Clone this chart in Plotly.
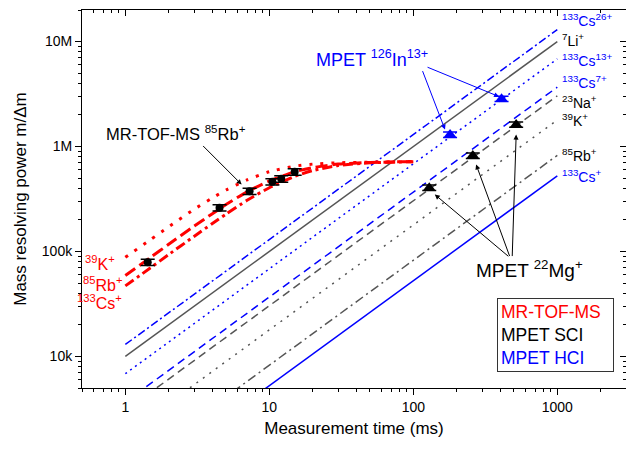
import numpy as np
import plotly.graph_objects as go

# ---------------- data ----------------
# MPET lines (resolving power grows linearly with time), values at 1 ms and 1000 ms
line_labels = ["<sup>133</sup>Cs<sup>26+</sup>", "<sup>7</sup>Li<sup>+</sup>", "<sup>133</sup>Cs<sup>13+</sup>",
               "<sup>133</sup>Cs<sup>7+</sup>", "<sup>23</sup>Na<sup>+</sup>", "<sup>39</sup>K<sup>+</sup>",
               "<sup>85</sup>Rb<sup>+</sup>", "<sup>133</sup>Cs<sup>+</sup>"]
line_t = [1, 1000]
line_r_start = [1.3e4, 1.0e4, 6.84e3, 3.68e3, 3.04e3, 1.79e3, 8.24e2, 5.26e2]
line_r_end = [1.3e7, 1.0e7, 6.84e6, 3.68e6, 3.04e6, 1.79e6, 8.24e5, 5.26e5]

# MR-TOF-MS curves
mr_t = [1, 1.5, 2, 3, 4, 5, 7, 10, 15, 20, 30, 50, 70, 100]
mr_K = [8.8e4, 1.3e5, 1.72e5, 2.52e5, 3.22e5, 3.85e5, 4.8e5, 5.75e5, 6.5e5, 6.8e5, 7.0e5, 7.1e5, 7.15e5, 7.2e5]
mr_Rb = [5.9e4, 8.8e4, 1.17e5, 1.74e5, 2.28e5, 2.8e5, 3.7e5, 4.7e5, 5.75e5, 6.3e5, 6.8e5, 7.05e5, 7.12e5, 7.18e5]
mr_Cs = [4.7e4, 7.0e4, 9.35e4, 1.39e5, 1.84e5, 2.27e5, 3.07e5, 4.05e5, 5.2e5, 5.9e5, 6.6e5, 7.0e5, 7.1e5, 7.18e5]
mr_labels = ["<sup>39</sup>K<sup>+</sup>", "<sup>85</sup>Rb<sup>+</sup>", "<sup>133</sup>Cs<sup>+</sup>"]

# measured points
mr_pt_t = [1.43, 4.51, 7.29, 10.5, 12.1, 15.0]
mr_pt_r = [7.9e4, 2.61e5, 3.75e5, 4.62e5, 4.92e5, 5.74e5]
mg_t = [129, 259, 518]
mg_r = [4.05e5, 8.2e5, 1.62e6]
in_t = [180, 410]
in_r = [1.30e6, 2.85e6]

x_ticks = [1, 10, 100, 1000]
y_ticks = [1e4, 1e5, 1e6, 1e7]
y_ticktext = ["10k", "100k", "1M", "10M"]

# ---------------- styles ----------------
GRAY = "#555555"
BLUE = "#0000ff"
RED = "#ff0000"
line_colors = [BLUE, GRAY, BLUE, BLUE, GRAY, GRAY, GRAY, BLUE]
line_dashes = ["8px,3px,2px,3px", "solid", "2px,4px", "8px,5px", "8px,5px", "2px,6px", "9px,4px,2px,4px", "solid"]
label_colors = [BLUE, "black", BLUE, BLUE, "black", "black", "black", BLUE]
label_yshift = [10, 2, -1, 5, -6, 0, 0, 0]
mr_dashes = ["3px,8px", "12px,5px", "10px,4px,3px,4px"]

FONT = "Liberation Sans, Arial, sans-serif"

fig = go.Figure()

for rs, re_, c, d in zip(line_r_start, line_r_end, line_colors, line_dashes):
    fig.add_trace(go.Scatter(x=line_t, y=[rs, re_], mode="lines",
                             line=dict(color=c, width=1.5, dash=d), hoverinfo="skip"))

for ys, d in zip([mr_K, mr_Rb, mr_Cs], mr_dashes):
    fig.add_trace(go.Scatter(x=mr_t, y=ys, mode="lines",
                             line=dict(color=RED, width=3, dash=d, shape="spline", smoothing=0.6),
                             hoverinfo="skip"))

fig.add_trace(go.Scatter(x=mr_pt_t, y=mr_pt_r, mode="markers",
                         marker=dict(symbol="circle", size=8, color="black"),
                         error_y=dict(type="percent", value=7, color="black", thickness=1.5, width=7)))
fig.add_trace(go.Scatter(x=mg_t, y=mg_r, mode="markers",
                         marker=dict(symbol="triangle-up", size=11, color="black"),
                         error_y=dict(type="percent", value=6, color="black", thickness=1.5, width=7)))
fig.add_trace(go.Scatter(x=in_t, y=in_r, mode="markers",
                         marker=dict(symbol="triangle-up", size=11, color=BLUE),
                         error_y=dict(type="percent", value=6, color=BLUE, thickness=1.5, width=7)))

# dummy trace for the top/right frame axes
fig.add_trace(go.Scatter(x=[10], y=[1e5], xaxis="x2", yaxis="y2", mode="markers",
                         marker=dict(opacity=0), hoverinfo="skip"))

ann = []
# right labels for MPET lines
for lab, re_, c, ys in zip(line_labels, line_r_end, label_colors, label_yshift):
    ann.append(dict(x=np.log10(line_t[-1]), y=np.log10(re_), xref="x", yref="y", text=lab,
                    showarrow=False, xanchor="left", yanchor="middle", xshift=3, yshift=ys,
                    font=dict(size=14, color=c, family=FONT)))
# left red labels
for lab, ys, yy, xx in zip(mr_labels, [mr_K, mr_Rb, mr_Cs], [-6, -8, -16], [-8, -1, -1]):
    ann.append(dict(x=np.log10(mr_t[0]), y=np.log10(ys[0]), xref="x", yref="y", text=lab,
                    showarrow=False, xanchor="right", yanchor="middle", xshift=xx, yshift=yy,
                    font=dict(size=16, color=RED, family=FONT)))

# text labels
ann.append(dict(x=0.172, y=0.675, xref="paper", yref="paper", xanchor="center", yanchor="middle",
                text="MR-TOF-MS <sup>85</sup>Rb<sup>+</sup>",
                showarrow=False, font=dict(size=16.5, color="black", family=FONT)))
ann.append(dict(x=0.533, y=0.872, xref="paper", yref="paper", xanchor="center", yanchor="middle",
                text="MPET <sup>126</sup>In<sup>13+</sup>",
                showarrow=False, font=dict(size=18, color=BLUE, family=FONT)))
ann.append(dict(x=0.822, y=0.316, xref="paper", yref="paper", xanchor="center", yanchor="middle",
                text="MPET <sup>22</sup>Mg<sup>+</sup>",
                showarrow=False, font=dict(size=19, color="black", family=FONT)))

# arrows: head (t, R), tail pixel offset
arrows = [(6.42, 4.35e5, -40, -40, "black"),
          (166, 1.45e6, -23, -60, BLUE),
          (394, 2.99e6, -73, -30, BLUE),
          (141, 3.49e5, 75, 63, "black"),
          (273, 6.74e5, 34, 93, "black"),
          (518, 1.30e6, -4, 123, "black")]
for t, r, ax, ay, c in arrows:
    ann.append(dict(x=np.log10(t), y=np.log10(r), xref="x", yref="y", text="", showarrow=True,
                    ax=ax, ay=ay, axref="pixel", ayref="pixel", arrowhead=2, arrowsize=1,
                    arrowwidth=1, arrowcolor=c, standoff=0))

# legend box
ann.append(dict(x=0.7629, y=0.238, xref="paper", yref="paper", xanchor="left", yanchor="top",
                text="<span style='color:#ff0000'>MR-TOF-MS</span><br>"
                     "<span style='color:#000000'>MPET SCI</span><br>"
                     "<span style='color:#0000ff'>MPET HCI</span>",
                showarrow=False, align="left", bordercolor="#333333", borderwidth=1, borderpad=3,
                bgcolor="white", width=109, font=dict(size=17.5, family=FONT)))

xr = [np.log10(0.5), np.log10(3000)]
yr = [np.log10(5000), np.log10(2e7)]
minor_x = [0.5, 0.6, 0.7, 0.8, 0.9] + [k * d for d in [1, 10, 100] for k in range(2, 10)] + [2000, 3000]
minor_y = [k * d for d in [1e3, 1e4, 1e5, 1e6] for k in range(2, 10) if 5000 <= k * d] + [2e7]

fig.update_layout(
    width=626, height=449,
    margin=dict(l=82, r=0, t=10, b=61),
    plot_bgcolor="white", paper_bgcolor="white",
    showlegend=False,
    font=dict(family=FONT, size=14, color="black"),
    annotations=ann,
    xaxis=dict(type="log", range=xr, tickvals=x_ticks, ticktext=[str(v) for v in x_ticks],
               ticks="outside", ticklen=6, tickwidth=1, tickcolor="black",
               showline=True, linecolor="black", linewidth=1, showgrid=False, zeroline=False,
               minor=dict(tickvals=minor_x, ticks="outside", ticklen=3, tickcolor="black", showgrid=False),
               tickfont=dict(size=14),
               title=dict(text="Measurement time (ms)", font=dict(size=17), standoff=8)),
    yaxis=dict(type="log", range=yr, tickvals=y_ticks, ticktext=y_ticktext,
               ticks="outside", ticklen=6, tickwidth=1, tickcolor="black",
               showline=True, linecolor="black", linewidth=1, showgrid=False, zeroline=False,
               minor=dict(tickvals=minor_y, ticks="outside", ticklen=3, tickcolor="black", showgrid=False),
               tickfont=dict(size=14),
               title=dict(text="Mass resolving power m/Δm", font=dict(size=17), standoff=10)),
    xaxis2=dict(type="log", range=xr, overlaying="x", side="top", anchor="y",
                tickvals=x_ticks, showticklabels=False, ticks="inside", ticklen=6, tickcolor="black",
                showline=True, linecolor="black", linewidth=1, showgrid=False, zeroline=False,
                minor=dict(tickvals=minor_x, ticks="inside", ticklen=3, tickcolor="black", showgrid=False)),
    yaxis2=dict(type="log", range=yr, overlaying="y", side="right", anchor="x",
                tickvals=y_ticks, showticklabels=False, ticks="inside", ticklen=6, tickcolor="black",
                showline=True, linecolor="black", linewidth=1, showgrid=False, zeroline=False,
                minor=dict(tickvals=minor_y, ticks="inside", ticklen=3, tickcolor="black", showgrid=False)),
)

fig.write_html("out.html")
